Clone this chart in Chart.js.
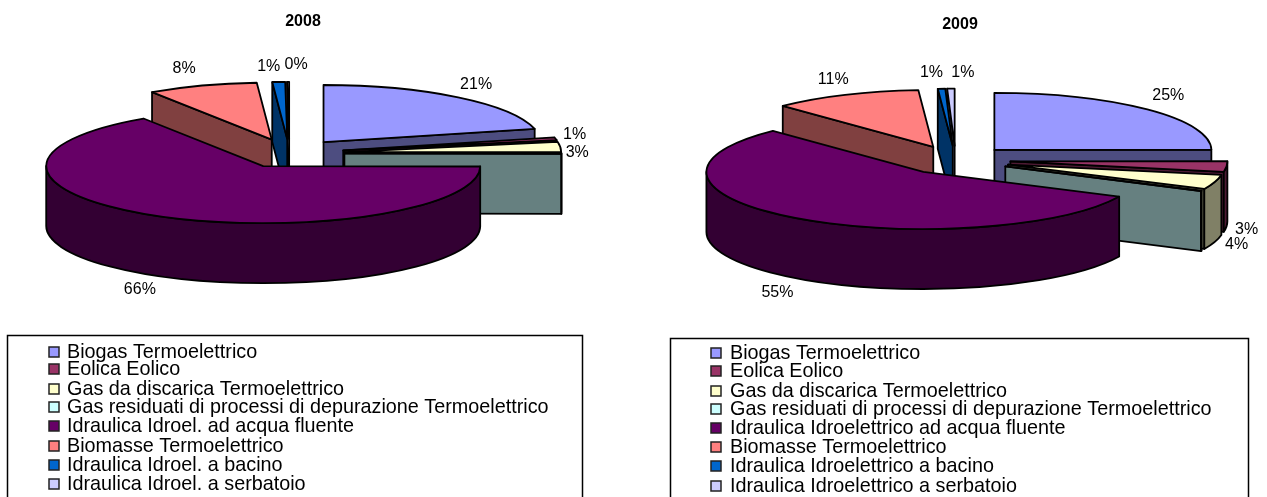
<!DOCTYPE html>
<html>
<head>
<meta charset="utf-8">
<title>2008 - 2009</title>
<script src="https://cdn.jsdelivr.net/npm/chart.js@4"></script>
<style>
    html, body { margin: 0; padding: 0; background: #fff; overflow: hidden; }
    body { width: 1267px; height: 497px; position: relative; }
    canvas { position: absolute; top: 0; }
    #chart2008 { left: 0; }
    #chart2009 { left: 633px; }
</style>
</head>
<body>
<canvas id="chart2008" width="633" height="497"></canvas>
<canvas id="chart2009" width="634" height="497"></canvas>
<script>
const labels2008 = [
    'Biogas Termoelettrico',
    'Eolica Eolico',
    'Gas da discarica Termoelettrico',
    'Gas residuati di processi di depurazione Termoelettrico',
    'Idraulica Idroel. ad acqua fluente',
    'Biomasse Termoelettrico',
    'Idraulica Idroel. a bacino',
    'Idraulica Idroel. a serbatoio'
];
const labels2009 = [
    'Biogas Termoelettrico',
    'Eolica Eolico',
    'Gas da discarica Termoelettrico',
    'Gas residuati di processi di depurazione Termoelettrico',
    'Idraulica Idroelettrico ad acqua fluente',
    'Biomasse Termoelettrico',
    'Idraulica Idroelettrico a bacino',
    'Idraulica Idroelettrico a serbatoio'
];
const values2008 = [21.3, 0.8, 2.9, 0.1, 65.6, 8.2, 0.95, 0.15];
const values2009 = [24.9, 3, 4.1, 0.1, 55.7, 11.1, 0.55, 0.55];
const percent2008 = ['21%', '1%', '3%', '', '66%', '8%', '1%', '0%'];
const percent2009 = ['25%', '3%', '4%', '', '55%', '11%', '1%', '1%'];
const sliceColors = ['#9999FF', '#993366', '#FFFFCC', '#CCFFFF', '#660066', '#FF8080', '#0066CC', '#CCCCFF'];

const TILT = 0.263;
const DEPTH = 60;
const FONT = '"Liberation Sans", Arial, sans-serif';

// side faces are the slice colour at half brightness
function darken(hex) {
    const n = parseInt(hex.slice(1), 16);
    return 'rgb(' + (n >> 16) / 2 + ',' + ((n >> 8) & 255) / 2 + ',' + (n & 255) / 2 + ')';
}

function paint(ctx, fill) {
    ctx.fillStyle = fill;
    ctx.fill();
    ctx.stroke();
}

function drawSlice(ctx, s) {
    const rim = function (a) {
        return [s.x + Math.cos(a) * s.r, s.y + Math.sin(a) * s.r * TILT];
    };
    const side = darken(s.color);

    // cut faces, only the ones turned towards the viewer
    [[s.start, Math.sin(s.start + Math.PI / 2) < 0], [s.end, Math.sin(s.end + Math.PI / 2) > 0]].forEach(function (cut) {
        if (!cut[1]) return;
        const p = rim(cut[0]);
        ctx.beginPath();
        ctx.moveTo(s.x, s.y);
        ctx.lineTo(p[0], p[1]);
        ctx.lineTo(p[0], p[1] + DEPTH);
        ctx.lineTo(s.x, s.y + DEPTH);
        ctx.closePath();
        paint(ctx, side);
    });

    // outer wall, front half of the ellipse only
    const lo = Math.max(s.start, 0);
    const hi = Math.min(s.end, Math.PI);
    if (lo < hi) {
        ctx.beginPath();
        ctx.ellipse(s.x, s.y, s.r, s.r * TILT, 0, lo, hi);
        ctx.ellipse(s.x, s.y + DEPTH, s.r, s.r * TILT, 0, hi, lo, true);
        ctx.closePath();
        paint(ctx, side);
    }

    // top face
    ctx.beginPath();
    ctx.moveTo(s.x, s.y);
    ctx.ellipse(s.x, s.y, s.r, s.r * TILT, 0, s.start, s.end);
    ctx.closePath();
    paint(ctx, s.color);
}

const pie3d = {
    id: 'pie3d',
    beforeDatasetsDraw: function (chart, args, opts) {
        const ctx = chart.ctx;
        const ds = chart.data.datasets[0];
        const slices = chart.getDatasetMeta(0).data.map(function (arc, i) {
            const mid = (arc.startAngle + arc.endAngle) / 2;
            return {
                i: i,
                mid: mid,
                start: arc.startAngle,
                end: arc.endAngle,
                r: arc.outerRadius,
                x: arc.x + Math.cos(mid) * arc.options.offset,
                y: arc.y + Math.sin(mid) * arc.options.offset * TILT,
                color: ds.backgroundColor[i]
            };
        });

        ctx.save();
        ctx.strokeStyle = '#000';
        ctx.lineWidth = 1.8;
        ctx.lineJoin = 'round';
        // back to front
        slices.slice().sort(function (a, b) { return a.y - b.y; }).forEach(function (s) {
            drawSlice(ctx, s);
        });

        ctx.fillStyle = '#000';
        ctx.font = '16px ' + FONT;
        ctx.textAlign = 'center';
        ctx.textBaseline = 'middle';
        slices.forEach(function (s) {
            const nudge = opts.labelNudge[s.i];
            const px = s.x + Math.cos(s.mid) * s.r + nudge[0];
            const py = s.y + Math.sin(s.mid) * s.r * TILT + nudge[1];
            ctx.fillText(opts.percent[s.i], px, py);
        });

        ctx.font = 'bold 16px ' + FONT;
        ctx.fillText(opts.title, opts.titleX, opts.titleY);
        ctx.restore();
        return false;
    },
    afterDraw: function (chart, args, opts) {
        const ctx = chart.ctx;
        const b = opts.legendBox;
        ctx.save();
        ctx.strokeStyle = '#000';
        ctx.lineWidth = 1.5;
        ctx.strokeRect(b.left, b.top, b.width, 200);

        ctx.font = '19.8px ' + FONT;
        ctx.textAlign = 'left';
        ctx.textBaseline = 'middle';
        chart.data.labels.forEach(function (label, i) {
            const y = opts.legendRows[i];
            ctx.fillStyle = sliceColors[i];
            ctx.lineWidth = 1.5;
            ctx.strokeStyle = '#222';
            ctx.fillRect(b.swatchX, y - 5, 10, 10);
            ctx.strokeRect(b.swatchX, y - 5, 10, 10);
            ctx.fillStyle = '#000';
            ctx.fillText(label, b.textX, y + 1);
        });
        ctx.restore();
    }
};

function makePie(id, labels, values, padding, opts) {
    return new Chart(document.getElementById(id), {
        type: 'pie',
        data: {
            labels: labels,
            datasets: [{
                data: values,
                backgroundColor: sliceColors,
                offset: 55,
                borderWidth: 0
            }]
        },
        options: {
            responsive: false,
            animation: false,
            radius: 217,
            layout: { padding: padding },
            plugins: {
                legend: { display: false },
                title: { display: false },
                tooltip: { enabled: false },
                pie3d: opts
            }
        },
        plugins: [pie3d]
    });
}

makePie('chart2008', labels2008, values2008, { right: 54.2, bottom: 190.2 }, {
    title: '2008',
    titleX: 303,
    titleY: 22,
    percent: percent2008,
    labelNudge: [[18, -13], [19, -4], [17, 6], [0, 0], [-20, 73], [-18, -17], [-10, -15], [8, -17]],
    legendBox: { left: 7.5, top: 335.5, width: 575, swatchX: 49, textX: 67 },
    legendRows: [352, 369, 389, 407, 426, 446, 465, 484]
});

makePie('chart2009', labels2009, values2009, { left: 11.2, bottom: 176.6 }, {
    title: '2009',
    titleX: 327,
    titleY: 25,
    percent: percent2009,
    labelNudge: [[21, -14], [20, 63], [22, 63], [0, 0], [-19, 74], [-12, -15], [-10, -16], [12, -16]],
    legendBox: { left: 37.5, top: 338.5, width: 578, swatchX: 78, textX: 97 },
    legendRows: [353, 371, 391, 409, 428, 447, 466, 486]
});
</script>
</body>
</html>
